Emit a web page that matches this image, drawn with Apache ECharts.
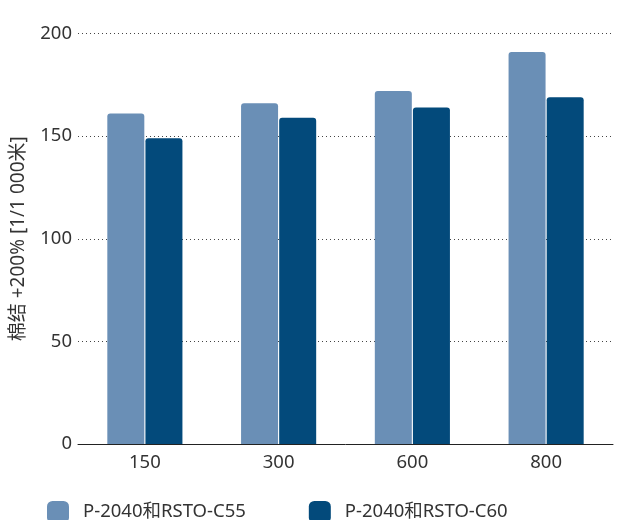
<!DOCTYPE html>
<html>
<head>
<meta charset="utf-8">
<script src="https://cdn.jsdelivr.net/npm/echarts@6/dist/echarts.min.js"></script>
<style>html,body{margin:0;padding:0;background:#fff;}#c{width:617px;height:520px;}</style>
</head>
<body>
<div id="c"></div>
<script>
const categories = ['150', '300', '600', '800'];
const seriesNames = ['P-2040和RSTO-C55', 'P-2040和RSTO-C60'];
const valuesC55 = [161, 166, 172, 191];
const valuesC60 = [149, 159, 164, 169];
const yTicks = [0, 50, 100, 150, 200];
const yAxisName = '棉结 +200% [1/1 000米]';

const FONT = "'Noto Sans', 'Noto Sans CJK SC', sans-serif";
const chart = echarts.init(document.getElementById('c'), null, {renderer: 'canvas'});
chart.setOption({
  animation: false,
  textStyle: {fontFamily: FONT},
  grid: {left: 78, right: 4, top: 33.5, bottom: 76, containLabel: false},
  legend: {
    left: 42, top: 496, itemWidth: 22, itemHeight: 22, itemGap: 63,
    icon: 'roundRect',
    textStyle: {fontSize: 18.5, color: '#333', fontFamily: FONT, padding: [0, 0, 6, 9]},
    data: seriesNames
  },
  xAxis: {
    type: 'category', data: categories,
    axisLine: {lineStyle: {color: '#222', width: 1}},
    axisTick: {length: 10, lineStyle: {color: '#222'}},
    axisLabel: {fontSize: 18.5, color: '#333', margin: 9, fontFamily: FONT}
  },
  yAxis: {
    type: 'value', min: yTicks[0], max: yTicks[yTicks.length - 1], interval: 50,
    name: yAxisName, nameLocation: 'middle', nameGap: 50, nameRotate: 90,
    nameTextStyle: {fontSize: 19, color: '#333', fontFamily: FONT},
    axisLine: {show: false}, axisTick: {show: false},
    axisLabel: {fontSize: 18.5, color: '#333', margin: 6, fontFamily: FONT},
    splitLine: {lineStyle: {type: [1, 3], color: '#444', width: 1}}
  },
  series: [
    {name: seriesNames[0], type: 'bar', data: valuesC55, barWidth: 37, barGap: '3%',
     itemStyle: {color: '#6a8fb6', borderRadius: [3, 3, 0, 0]}},
    {name: seriesNames[1], type: 'bar', data: valuesC60, barWidth: 37,
     itemStyle: {color: '#034a7b', borderRadius: [3, 3, 0, 0]}}
  ]
});
</script>
</body>
</html>
